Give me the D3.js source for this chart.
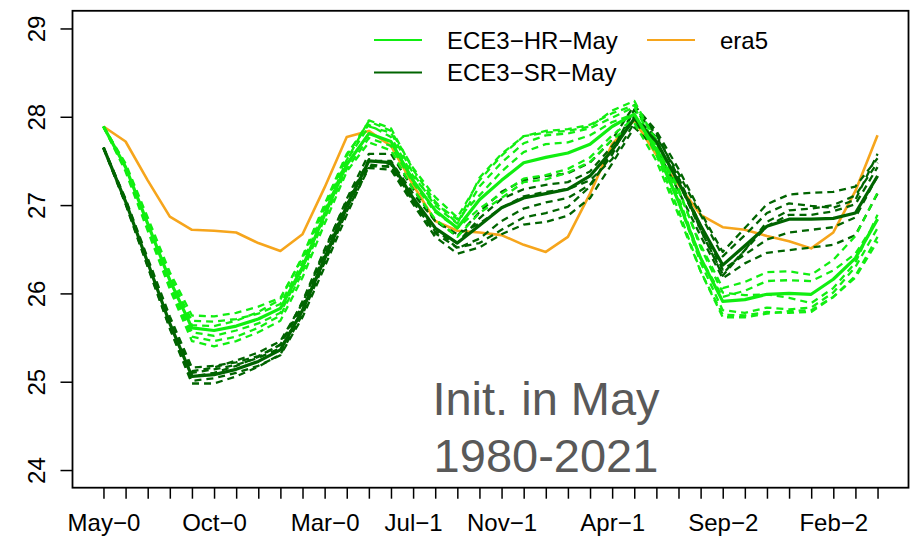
<!DOCTYPE html>
<html>
<head>
<meta charset="utf-8">
<script src="https://cdn.jsdelivr.net/npm/d3@7"></script>
<style>
    body { margin: 0; background: #fff; }
    svg { display: block; }
    text { font-family: "Liberation Sans", Arial, sans-serif; }
</style>
</head>
<body>
<svg width="918" height="537"></svg>
<script>
'use strict';

// x labels: only some months are printed under the 36 monthly ticks
var labelIdx = [0, 5, 10, 14, 18, 23, 28, 33];
var labelText = ['May\u22120', 'Oct\u22120', 'Mar\u22120', 'Jul\u22121', 'Nov\u22121', 'Apr\u22121', 'Sep\u22122', 'Feb\u22122'];
var yTicks = [24, 25, 26, 27, 28, 29];

var era5 = [27.89, 27.72, 27.28, 26.87, 26.72, 26.71, 26.69, 26.57, 26.48, 26.67, 27.20, 27.77,
    27.84, 27.67, 27.23, 26.82, 26.71, 26.69, 26.66, 26.55, 26.47, 26.64, 27.13, 27.69,
    27.96, 27.57, 27.23, 26.89, 26.75, 26.72, 26.65, 26.59, 26.51, 26.69, 27.16, 27.79];

var hrMean = [27.89, 27.43, 26.79, 26.15, 25.61, 25.58, 25.63, 25.71, 25.83, 26.30, 26.89, 27.46,
    27.81, 27.72, 27.28, 26.94, 26.74, 27.06, 27.28, 27.48, 27.54, 27.59, 27.69, 27.89,
    28.03, 27.62, 27.04, 26.40, 25.91, 25.93, 25.99, 26.00, 25.99, 26.16, 26.40, 26.84];

var srMean = [27.65, 27.04, 26.35, 25.66, 25.06, 25.08, 25.14, 25.23, 25.36, 25.81, 26.40, 26.99,
    27.50, 27.48, 27.08, 26.74, 26.57, 26.77, 26.97, 27.08, 27.13, 27.18, 27.33, 27.62,
    27.98, 27.72, 27.26, 26.77, 26.32, 26.54, 26.76, 26.84, 26.84, 26.85, 26.91, 27.33];

var hrMembers = [
    [27.89, 27.47, 26.86, 26.24, 25.75, 25.74, 25.78, 25.85, 25.95, 26.40, 26.97, 27.56,
     27.95, 27.84, 27.42, 27.09, 26.86, 27.28, 27.56, 27.78, 27.84, 27.86, 27.91, 28.04,
     28.13, 27.74, 27.19, 26.52, 26.01, 25.98, 25.99, 25.95, 25.89, 26.06, 26.35, 26.89],
    [27.89, 27.38, 26.71, 26.05, 25.46, 25.40, 25.46, 25.56, 25.69, 26.18, 26.79, 27.38,
     27.71, 27.62, 27.18, 26.84, 26.64, 26.91, 27.08, 27.26, 27.29, 27.37, 27.49, 27.74,
     27.93, 27.50, 26.89, 26.25, 25.76, 25.75, 25.79, 25.78, 25.79, 25.96, 26.20, 26.64],
    [27.89, 27.45, 26.82, 26.20, 25.69, 25.68, 25.71, 25.77, 25.88, 26.35, 26.94, 27.51,
     27.89, 27.82, 27.36, 26.99, 26.79, 27.21, 27.48, 27.70, 27.79, 27.81, 27.87, 27.99,
     28.11, 27.67, 27.04, 26.35, 25.81, 25.78, 25.84, 25.82, 25.84, 26.01, 26.30, 26.74],
    [27.89, 27.40, 26.74, 26.09, 25.51, 25.46, 25.51, 25.61, 25.75, 26.24, 26.85, 27.41,
     27.76, 27.67, 27.25, 26.92, 26.74, 26.96, 27.13, 27.30, 27.34, 27.41, 27.54, 27.79,
     27.98, 27.67, 27.16, 26.55, 26.06, 26.13, 26.24, 26.25, 26.21, 26.38, 26.65, 27.14],
    [27.89, 27.44, 26.81, 26.17, 25.64, 25.63, 25.69, 25.79, 25.93, 26.42, 27.01, 27.58,
     27.91, 27.77, 27.33, 27.02, 26.84, 27.11, 27.38, 27.60, 27.69, 27.71, 27.79, 27.94,
     28.03, 27.57, 26.94, 26.25, 25.73, 25.73, 25.77, 25.80, 25.81, 25.96, 26.18, 26.59],
    [27.89, 27.41, 26.76, 26.11, 25.56, 25.52, 25.58, 25.66, 25.78, 26.28, 26.91, 27.51,
     27.96, 27.87, 27.40, 27.04, 26.79, 27.31, 27.58, 27.78, 27.82, 27.84, 27.89, 28.07,
     28.18, 27.72, 27.09, 26.40, 25.96, 26.03, 26.14, 26.15, 26.14, 26.26, 26.45, 26.84]
];

var srMembers = [
    [27.65, 27.06, 26.38, 25.71, 25.12, 25.16, 25.24, 25.33, 25.46, 25.89, 26.48, 27.07,
     27.58, 27.58, 27.18, 26.82, 26.65, 26.92, 27.15, 27.28, 27.33, 27.36, 27.48, 27.74,
     28.13, 27.84, 27.41, 26.92, 26.47, 26.74, 27.01, 27.12, 27.14, 27.15, 27.21, 27.53],
    [27.65, 27.01, 26.30, 25.60, 24.98, 24.98, 25.06, 25.17, 25.31, 25.76, 26.35, 26.93,
     27.42, 27.40, 27.01, 26.64, 26.45, 26.52, 26.67, 26.78, 26.81, 26.88, 27.08, 27.47,
     27.88, 27.64, 27.16, 26.65, 26.17, 26.34, 26.46, 26.49, 26.52, 26.55, 26.66, 27.13],
    [27.65, 27.05, 26.35, 25.64, 25.06, 25.10, 25.18, 25.28, 25.42, 25.86, 26.44, 27.01,
     27.52, 27.46, 27.04, 26.68, 26.52, 26.57, 26.72, 26.86, 26.91, 26.98, 27.21, 27.62,
     28.08, 27.80, 27.31, 26.77, 26.27, 26.44, 26.61, 26.69, 26.72, 26.75, 26.86, 27.33],
    [27.65, 27.03, 26.33, 25.66, 25.10, 25.14, 25.19, 25.27, 25.38, 25.81, 26.38, 26.96,
     27.46, 27.43, 27.03, 26.70, 26.57, 26.85, 27.07, 27.18, 27.23, 27.26, 27.38, 27.67,
     28.00, 27.77, 27.36, 26.89, 26.42, 26.66, 26.91, 27.02, 26.99, 26.97, 27.06, 27.58],
    [27.65, 27.07, 26.40, 25.74, 25.16, 25.18, 25.22, 25.29, 25.42, 25.91, 26.50, 27.05,
     27.50, 27.50, 27.13, 26.82, 26.67, 26.79, 26.97, 27.10, 27.15, 27.18, 27.28, 27.52,
     27.93, 27.72, 27.26, 26.72, 26.22, 26.49, 26.76, 26.89, 26.89, 26.93, 27.01, 27.43],
    [27.65, 27.02, 26.31, 25.61, 25.01, 25.04, 25.10, 25.18, 25.30, 25.73, 26.30, 26.89,
     27.44, 27.44, 27.06, 26.74, 26.51, 26.62, 26.82, 26.96, 27.03, 27.08, 27.23, 27.57,
     28.08, 27.82, 27.31, 26.72, 26.20, 26.49, 26.81, 26.94, 26.96, 27.00, 27.11, 27.48]
];

var colHR = '#11ee11',
    colSR = '#006400',
    colEra = '#f6a51c';

var svg = d3.select('svg');

var box = { left: 72.5, right: 908.5, top: 10.8, bottom: 487.7 };

// R style 4% padding round 36 monthly points and ylim 24..29
var x = d3.scaleLinear().domain([-1.4, 36.4]).range([box.left, box.right]);
var y = d3.scaleLinear().domain([23.8, 29.2]).range([box.bottom, box.top]);

var line = d3.line()
    .x(function (d, i) { return x(i); })
    .y(function (d) { return y(d); });

function drawSeries (data, colour, width, dash) {
    svg.append('path')
        .datum(data)
        .attr('d', line)
        .attr('fill', 'none')
        .attr('stroke', colour)
        .attr('stroke-width', width)
        .attr('stroke-linejoin', 'round')
        .attr('stroke-dasharray', dash || null);
}

drawSeries(era5, colEra, 2.6);
srMembers.forEach(function (m) { drawSeries(m, colSR, 2.3, '7,5'); });
hrMembers.forEach(function (m) { drawSeries(m, colHR, 2.3, '7,5'); });
drawSeries(srMean, colSR, 3.2);
drawSeries(hrMean, colHR, 3.2);

// axes
var yAxis = svg.append('g')
    .attr('transform', 'translate(' + box.left + ',0)')
    .call(d3.axisLeft(y).tickValues(yTicks).tickSize(12).tickSizeOuter(0).tickFormat(d3.format('d')));
yAxis.select('.domain').remove();
yAxis.selectAll('line').attr('stroke-width', 1.5);
yAxis.selectAll('text')
    .attr('transform', 'rotate(-90)')
    .attr('x', 0)
    .attr('y', -27.5)
    .attr('dy', 0)
    .attr('text-anchor', 'middle')
    .attr('font-size', 24)
    .attr('font-family', '"Liberation Sans", Arial, sans-serif')
    .attr('fill', '#000');

var xAxis = svg.append('g')
    .attr('transform', 'translate(0,' + box.bottom + ')')
    .call(d3.axisBottom(x)
        .tickValues(d3.range(36))
        .tickSize(11)
        .tickSizeOuter(0)
        .tickFormat(function (d) {
            var k = labelIdx.indexOf(d);
            return k < 0 ? '' : labelText[k];
        }));
xAxis.select('.domain').remove();
xAxis.selectAll('line').attr('stroke-width', 1.5);
xAxis.selectAll('text')
    .attr('y', 43)
    .attr('dy', 0)
    .attr('font-size', 24)
    .attr('font-family', '"Liberation Sans", Arial, sans-serif')
    .attr('fill', '#000');

svg.append('rect')
    .attr('x', box.left)
    .attr('y', box.top)
    .attr('width', box.right - box.left)
    .attr('height', box.bottom - box.top)
    .attr('fill', 'none')
    .attr('stroke', '#000')
    .attr('stroke-width', 1.8);

// legend, no frame
var legendItems = [
    { name: 'ECE3\u2212HR\u2212May', col: colHR, lx: 374, ly: 40 },
    { name: 'ECE3\u2212SR\u2212May', col: colSR, lx: 374, ly: 72.5 },
    { name: 'era5', col: colEra, lx: 647, ly: 40 }
];
var gLeg = svg.append('g');
legendItems.forEach(function (d) {
    gLeg.append('line')
        .attr('x1', d.lx).attr('x2', d.lx + 48)
        .attr('y1', d.ly).attr('y2', d.ly)
        .attr('stroke', d.col)
        .attr('stroke-width', 2.2);
    gLeg.append('text')
        .attr('x', d.lx + 73)
        .attr('y', d.ly + 8.5)
        .attr('font-size', 24)
        .attr('fill', '#000')
        .text(d.name);
});

// annotation
var note = svg.append('g')
    .attr('fill', '#595959')
    .attr('font-size', 47)
    .attr('text-anchor', 'middle');
note.append('text').attr('x', 546).attr('y', 415).text('Init. in May');
note.append('text').attr('x', 546).attr('y', 472).text('1980-2021');
</script>
</body>
</html>
